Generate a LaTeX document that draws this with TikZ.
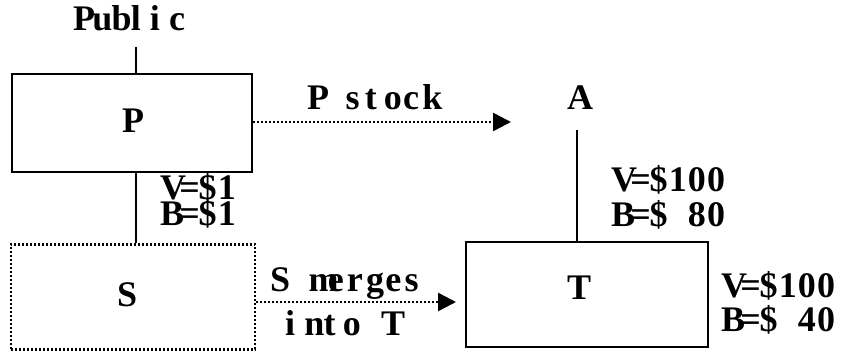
\documentclass[tikz,border=0pt]{standalone}
\usepackage{fontspec}
\setmainfont{Liberation Serif}
\usetikzlibrary{arrows.meta}
\def\mono#1{\monoloop#1\monoend}
\def\monoend{\monoend}
\def\monoloop#1{\ifx#1\monoend\else\makebox[19.2pt][l]{#1}\expandafter\monoloop\fi}
\begin{document}
\begin{tikzpicture}[x=1pt,y=-1pt,
  lbl/.style={font=\fontsize{36}{38}\selectfont\bfseries, inner sep=0pt, anchor=base west},
  box/.style={draw, line width=2pt, inner sep=0pt},
  dotbox/.style={draw, line width=2.5pt, dash pattern=on 2pt off 2pt, inner sep=0pt},
  link/.style={line width=1.5pt},
  darrow/.style={line width=2.5pt, dash pattern=on 2pt off 2pt, -{Triangle[length=18pt,width=18pt]}}
]
\useasboundingbox (0,0) rectangle (841,352);
% boxes
\node[box, minimum width=240pt, minimum height=98pt] (P) at (132,123) {};
\node[dotbox, minimum width=244pt, minimum height=105pt] (S) at (133,297) {};
\node[box, minimum width=242pt, minimum height=105pt] (T) at (587,294.5) {};
% texts
\node[lbl] (Pub) at (73,31) {\mono{Public}};
\node[lbl] (Ptxt) at (122,133) {\mono{P}};
\node[lbl] (Stxt) at (117,307) {\mono{S}};
\node[lbl] (Ttxt) at (567,300) {\mono{T}};
\node[lbl] (A) at (567,110) {\mono{A}};
\node[lbl] (pstock) at (307,110) {\mono{P~stock}};
\node[lbl] (smerge) at (270,292) {\mono{S~merges}};
\node[lbl] (into) at (285,336) {\mono{into~T}};
\node[lbl] (vp) at (160,200) {\mono{V=\$1}};
\node[lbl] (bp) at (160,226) {\mono{B=\$1}};
\node[lbl] (va) at (611,192) {\mono{V=\$100}};
\node[lbl] (ba) at (611,227) {\mono{B=\$~80}};
\node[lbl] (vt) at (721,298) {\mono{V=\$100}};
\node[lbl] (bt) at (721,332) {\mono{B=\$~40}};
% connectors
\coordinate (pubfoot) at (136,47);
\draw[link] (pubfoot) -- (pubfoot |- P.north);
\draw[link] (P.south -| pubfoot) -- (S.north -| pubfoot);
\draw[link] ([yshift=-20pt]A.south) -- (A.south |- T.north);
\coordinate (pend) at (511,122);
\draw[darrow] (P.east |- pend) -- (pend);
\coordinate (sm) at (255,302);
\draw[darrow, shorten >=9pt] (S.east |- sm) -- (T.west |- sm);
\end{tikzpicture}
\end{document}
